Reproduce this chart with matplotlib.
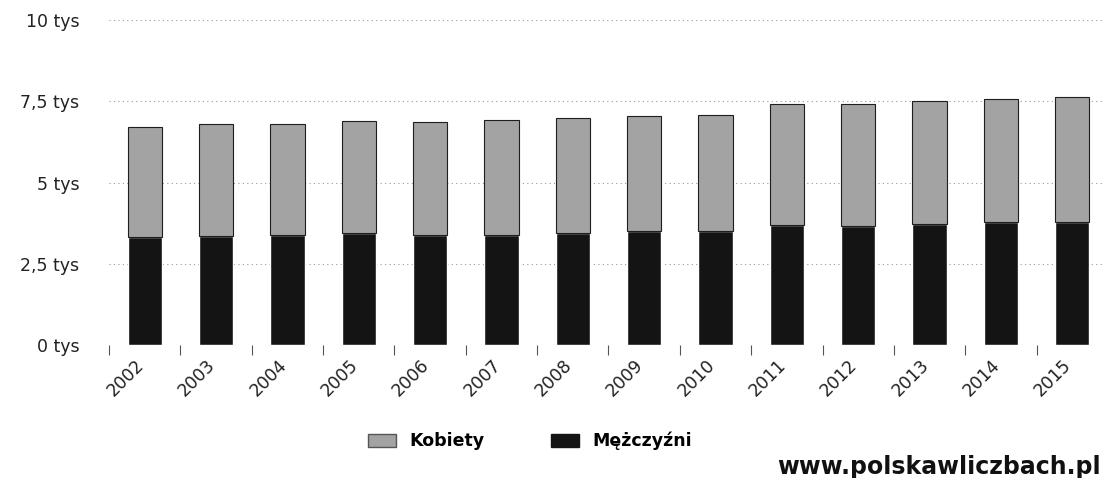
import numpy as np
import matplotlib
matplotlib.use("Agg")
import matplotlib.pyplot as plt
import matplotlib.transforms as mtrans
from matplotlib.patches import Patch

# dane (w tysiącach)
lata = ["2002", "2003", "2004", "2005", "2006", "2007", "2008",
        "2009", "2010", "2011", "2012", "2013", "2014", "2015"]
mezczyzni = [3.33, 3.36, 3.37, 3.44, 3.38, 3.38, 3.46,
             3.51, 3.51, 3.69, 3.67, 3.72, 3.78, 3.78]
ogolem = [6.72, 6.79, 6.79, 6.89, 6.87, 6.92, 6.98,
          7.04, 7.08, 7.42, 7.42, 7.52, 7.57, 7.63]
kobiety = [o - m for o, m in zip(ogolem, mezczyzni)]
y_ticks = [0, 2.5, 5, 7.5, 10]
y_labels = ["0 tys", "2,5 tys", "5 tys", "7,5 tys", "10 tys"]

plt.rcParams['font.family'] = ['DejaVu Sans']

W, H = 1103, 478
fig = plt.figure(figsize=(W / 100, H / 100), dpi=100)
ax = fig.add_axes([109 / W, 1 - 345 / H, 999 / W, 325 / H])

x = np.arange(len(lata))
ax.bar(x, mezczyzni, width=0.48, color="#141414", edgecolor="white", linewidth=1.0, zorder=3)
ax.bar(x, kobiety, bottom=mezczyzni, width=0.48, color="#a3a3a3", edgecolor="#1e1e1e",
       linewidth=0.8, zorder=3)

ax.set_xlim(-0.5, 13.5)
ax.set_ylim(0, 10)
ax.set_yticks(y_ticks)
ax.set_yticklabels(y_labels, fontsize=12.5, color="#222222")
ax.tick_params(axis="y", length=0, pad=21.5)
for v in y_ticks:
    ax.axhline(v, color="#999999", linewidth=0.8, linestyle=(0, (1, 3)), zorder=1)

ax.set_xticks(x)
ax.set_xticklabels(lata, rotation=45, ha="right", va="top", rotation_mode="anchor",
                   fontsize=12.5, color="#222222")
ax.tick_params(axis="x", which="major", length=0, pad=8)
przesun = mtrans.ScaledTranslation(-10 / 100, 0, fig.dpi_scale_trans)
for lab in ax.get_xticklabels():
    lab.set_transform(lab.get_transform() + przesun)
ax.set_xticks(np.arange(-0.5, 14, 1), minor=True)
ax.tick_params(axis="x", which="minor", length=7, width=0.8, color="#555555")

for s in ax.spines.values():
    s.set_visible(False)

uchwyty = [Patch(facecolor="#a3a3a3", edgecolor="#555555", label="Kobiety"),
           Patch(facecolor="#141414", edgecolor="#141414", label="Mężczyźni")]
fig.legend(handles=uchwyty, loc="center", bbox_to_anchor=(530 / W, 1 - 441 / H), ncol=2,
           frameon=False, prop={"size": 12.5, "weight": "bold"}, handlelength=1.6,
           handleheight=0.8, columnspacing=3.8, handletextpad=0.8)

fig.text(1101 / W, 1 - 467 / H, "www.polskawliczbach.pl", ha="right", va="center",
         fontsize=17, fontweight="bold", color="#111111")

fig.savefig("out.png", dpi=100)
